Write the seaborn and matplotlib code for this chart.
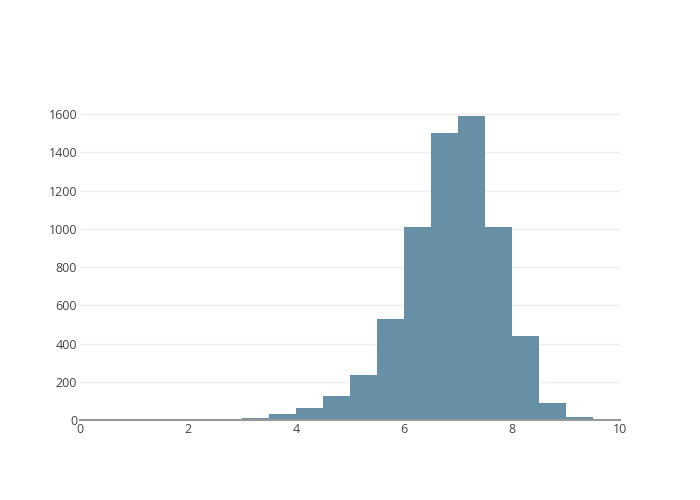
import numpy as np
import pandas as pd
import seaborn as sns
import matplotlib.pyplot as plt

# histogram: bins of width 0.5 from 0 to 10
bin_left = [0.0, 0.5, 1.0, 1.5, 2.0, 2.5, 3.0, 3.5, 4.0, 4.5,
            5.0, 5.5, 6.0, 6.5, 7.0, 7.5, 8.0, 8.5, 9.0, 9.5]
counts = [3, 0, 0, 0, 0, 2, 9, 32, 62, 125,
          235, 528, 1010, 1500, 1590, 1010, 440, 88, 15, 0]
x_ticks = [0, 2, 4, 6, 8, 10]
y_ticks = [0, 200, 400, 600, 800, 1000, 1200, 1400, 1600]

df = pd.DataFrame({"value": np.array(bin_left) + 0.25, "count": counts})

sns.set_style("white")
plt.rcParams["font.family"] = ["Open Sans", "DejaVu Sans"]

fig = plt.figure(figsize=(7, 5), dpi=100)
ax = fig.add_axes([80 / 700, 80 / 500, 540 / 700, 320 / 500])

sns.histplot(data=df, x="value", weights="count", binwidth=0.5, binrange=(0, 10),
             color="#678fa6", alpha=1.0, edgecolor="none", linewidth=0, ax=ax)

ax.set_xlim(0, 10)
ax.set_ylim(0, 1674)
ax.set_xticks(x_ticks)
ax.set_yticks(y_ticks)
ax.set_xlabel("")
ax.set_ylabel("")
ax.grid(axis="y", color="#eeeeee", linewidth=1)
ax.set_axisbelow(True)
for s in ["top", "right", "left"]:
    ax.spines[s].set_visible(False)
ax.spines["bottom"].set_color("#999999")
ax.spines["bottom"].set_linewidth(1.5)
ax.tick_params(axis="both", labelsize=9, colors="#444444", length=0)
ax.tick_params(axis="y", pad=2)
ax.tick_params(axis="x", pad=2)

fig.savefig("out.png", dpi=100)
